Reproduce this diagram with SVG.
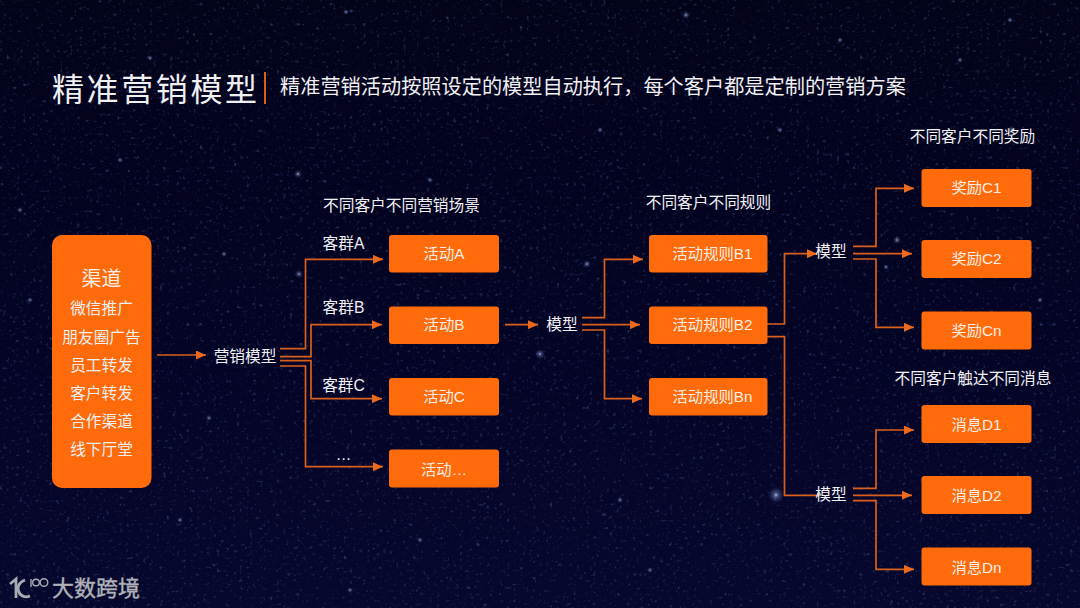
<svg xmlns="http://www.w3.org/2000/svg" width="1080" height="608" viewBox="0 0 1080 608">
<defs>
<linearGradient id="bg" x1="0" y1="0" x2="0" y2="1"><stop offset="0" stop-color="#03031a"/><stop offset="0.6" stop-color="#040426"/><stop offset="1" stop-color="#07082e"/></linearGradient>
<radialGradient id="glow"><stop offset="0" stop-color="#c8d4f0" stop-opacity="0.9"/><stop offset="0.3" stop-color="#7f93c8" stop-opacity="0.45"/><stop offset="1" stop-color="#5a70b0" stop-opacity="0"/></radialGradient>
<filter id="stars" x="0" y="0" width="100%" height="100%" color-interpolation-filters="sRGB">
<feTurbulence type="fractalNoise" baseFrequency="0.3" numOctaves="2" seed="11"/>
<feColorMatrix values="0 0 0 0 0.42  0 0 0 0 0.52  0 0 0 0 0.8  1.4 1.4 0 0 -1.62"/>
<feGaussianBlur stdDeviation="0.6"/>
</filter>
<marker id="arrow" markerUnits="userSpaceOnUse" markerWidth="10" markerHeight="9" refX="10" refY="4.500" orient="auto"><path d="M0 0L10 4.500L0 9Z" fill="#ec6a1e"/></marker>
</defs>
<style>
text{font-family:"Liberation Sans","Noto Sans CJK SC",sans-serif;fill:#f0f0f3;text-anchor:middle;font-size:15.700px}
.n{fill:#ff6a0a}
.n+text{font-size:15.300px;fill:#fbeee4}
.c{fill:none;stroke:#d9601c;stroke-width:1.700}
.a{marker-end:url(#arrow)}
.g{fill:url(#glow)}
</style>
<rect width="1080" height="608" fill="url(#bg)"/>
<rect width="1080" height="608" filter="url(#stars)" opacity="0.55"/>
<g id="stars-bright">
<circle class="g" cx="776" cy="495" r="8"/><circle class="g" cx="540" cy="354" r="5"/><circle class="g" cx="587" cy="264" r="4"/><circle class="g" cx="299" cy="274" r="4"/><circle class="g" cx="224" cy="254" r="3"/><circle class="g" cx="209" cy="418" r="3"/><circle class="g" cx="298" cy="174" r="4"/><circle class="g" cx="897" cy="240" r="4"/><circle class="g" cx="886" cy="267" r="3"/><circle class="g" cx="686" cy="15" r="4"/><circle class="g" cx="346" cy="12" r="3"/><circle class="g" cx="150" cy="58" r="3"/><circle class="g" cx="1012" cy="130" r="4"/><circle class="g" cx="1040" cy="300" r="3"/><circle class="g" cx="960" cy="60" r="3"/><circle class="g" cx="430" cy="180" r="3"/><circle class="g" cx="120" cy="160" r="3"/><circle class="g" cx="30" cy="300" r="3"/><circle class="g" cx="180" cy="520" r="3"/><circle class="g" cx="420" cy="540" r="3"/><circle class="g" cx="620" cy="500" r="3"/><circle class="g" cx="1010" cy="20" r="3"/><circle class="g" cx="600" cy="130" r="3"/><circle class="g" cx="780" cy="130" r="3"/><circle class="g" cx="840" cy="40" r="3"/><circle class="g" cx="20" cy="210" r="3"/><circle class="g" cx="650" cy="570" r="3"/><circle class="g" cx="350" cy="590" r="3"/>
</g>
<g id="title">
<text x="52" y="101" style="font-size:32px;letter-spacing:2.600px;text-anchor:start">精准营销模型</text>
<rect x="264" y="72" width="2" height="32" fill="#d8601c"/>
<text x="280" y="94" style="font-size:20.200px;text-anchor:start">精准营销活动按照设定的模型自动执行，每个客户都是定制的营销方案</text>
</g>
<g id="connectors">
<path class="c a" d="M157 355H206"/>
<path class="c a" d="M280 348.700H305.500V259.300H383"/>
<path class="c a" d="M280 356.700H311V324.700H382"/>
<path class="c a" d="M280 360.700H311V398.700H382"/>
<path class="c a" d="M280 366H305.500V466.700H383"/>
<path class="c a" d="M505 324.700H538"/>
<path class="c a" d="M582 317.700H604.500V259.300H643"/>
<path class="c a" d="M582 324.700H640"/>
<path class="c a" d="M582 330H604.500V398.700H642"/>
<path class="c a" d="M767 324H784.500V253.700H817"/>
<path class="c" d="M767 336.700H784.500V495.300H820"/>
<path class="c a" d="M853 246.300H876V188.300H914"/>
<path class="c a" d="M853 253.700H912"/>
<path class="c a" d="M853 259H876V327.300H914"/>
<path class="c a" d="M853 488.300H876V430H914"/>
<path class="c a" d="M853 495.300H912"/>
<path class="c a" d="M853 500.700H876V569.300H914"/>
</g>
<g id="channel">
<rect class="n" x="52" y="235" width="99.500" height="253" rx="10"/>
<text x="101.500" y="286" style="font-size:20px">渠道</text>
<text x="101.500" y="314">微信推广</text><text x="101.500" y="343">朋友圈广告</text><text x="101.500" y="371">员工转发</text><text x="101.500" y="399">客户转发</text><text x="101.500" y="427">合作渠道</text><text x="101.500" y="455">线下厅堂</text>
</g>
<g id="label-marketing-model"><text x="245" y="362">营销模型</text></g>
<g id="label-a"><text x="343.500" y="249">客群A</text></g>
<g id="label-b"><text x="343.500" y="313">客群B</text></g>
<g id="label-c"><text x="343.500" y="391">客群C</text></g>
<g id="label-etc"><text x="343.500" y="460">…</text></g>
<g id="caption-1"><text x="401.500" y="211">不同客户不同营销场景</text></g>
<g id="caption-2"><text x="708.500" y="208">不同客户不同规则</text></g>
<g id="caption-3"><text x="972.500" y="142">不同客户不同奖励</text></g>
<g id="caption-4"><text x="973" y="384">不同客户触达不同消息</text></g>
<g id="model-1"><text x="562" y="330">模型</text></g>
<g id="model-2"><text x="831" y="257">模型</text></g>
<g id="model-3"><text x="831" y="500">模型</text></g>
<g id="activity-a"><rect class="n" x="389" y="235" width="110" height="37.500" rx="3"/><text x="444" y="258.500">活动A</text></g>
<g id="activity-b"><rect class="n" x="389" y="306.500" width="110" height="37.500" rx="3"/><text x="444" y="329.500">活动B</text></g>
<g id="activity-c"><rect class="n" x="389" y="378" width="110" height="37.500" rx="3"/><text x="444" y="401.500">活动C</text></g>
<g id="activity-etc"><rect class="n" x="389" y="449.500" width="110" height="38" rx="3"/><text x="444" y="475">活动…</text></g>
<g id="rule-b1"><rect class="n" x="649" y="235" width="118.500" height="37.500" rx="3"/><text x="712.500" y="258.500">活动规则B1</text></g>
<g id="rule-b2"><rect class="n" x="649" y="306.500" width="118.500" height="37.500" rx="3"/><text x="712.500" y="329.500">活动规则B2</text></g>
<g id="rule-bn"><rect class="n" x="649" y="378" width="118.500" height="37.500" rx="3"/><text x="712.500" y="401.500">活动规则Bn</text></g>
<g id="reward-c1"><rect class="n" x="921.500" y="169" width="110" height="38" rx="3"/><text x="976.500" y="192.500">奖励C1</text></g>
<g id="reward-c2"><rect class="n" x="921.500" y="240" width="110" height="38" rx="3"/><text x="976.500" y="263.500">奖励C2</text></g>
<g id="reward-cn"><rect class="n" x="921.500" y="311.500" width="110" height="38" rx="3"/><text x="976.500" y="335.500">奖励Cn</text></g>
<g id="message-d1"><rect class="n" x="921.500" y="405" width="110" height="38" rx="3"/><text x="976.500" y="429.500">消息D1</text></g>
<g id="message-d2"><rect class="n" x="921.500" y="476" width="110" height="38" rx="3"/><text x="976.500" y="500.500">消息D2</text></g>
<g id="message-dn"><rect class="n" x="921.500" y="547.500" width="110" height="38" rx="3"/><text x="976.500" y="572.500">消息Dn</text></g>
<g id="logo">
<path d="M10 584L16 579V598" fill="none" stroke="#a9abb2" stroke-width="2.800"/>
<path d="M25 580C19 582 17 587 18.500 591C20 596 25 598 30 596" fill="none" stroke="#a9abb2" stroke-width="2.800"/>
<circle cx="36" cy="582.500" r="3.300" fill="none" stroke="#a9abb2" stroke-width="1.400"/>
<circle cx="44" cy="582.500" r="3.800" fill="none" stroke="#a9abb2" stroke-width="1.400"/>
<path d="M31 579V587" stroke="#a9abb2" stroke-width="1.400"/>
<text x="52" y="596" style="font-size:22px;fill:#b0b2b8;stroke:#b0b2b8;stroke-width:0.400;text-anchor:start">大数跨境</text>
</g>
</svg>
